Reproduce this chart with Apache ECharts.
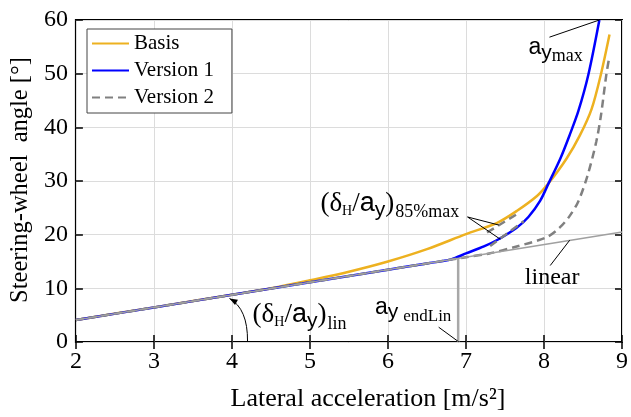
<!DOCTYPE html>
<html><head><meta charset="utf-8">
<script src="https://cdn.jsdelivr.net/npm/echarts@6/dist/echarts.min.js"></script>
<style>html,body{margin:0;padding:0;background:#fff}#c{width:631px;height:417px}</style>
</head><body><div id="c"></div>
<script>
// ---- data ----
const xTicks = [2, 3, 4, 5, 6, 7, 8, 9];
const yTicks = [0, 10, 20, 30, 40, 50, 60];

const xBasis = [2, 3, 4, 4.5, 5, 5.5, 6, 6.5, 7, 7.4, 7.65, 7.91, 8.06, 8.29, 8.46, 8.61, 8.73, 8.84];
const yBasis = [4.1, 6.45, 8.8, 10.0, 11.5, 13.1, 15.0, 17.3, 20.1, 22.2, 24.4, 27.2, 29.6, 34.2, 38.5, 43.4, 49.9, 57.3];

const xV1 = [2, 3, 4, 5, 6, 6.5, 6.81, 7.0, 7.23, 7.4, 7.65, 7.8, 7.95, 8.06, 8.21, 8.33, 8.44, 8.57, 8.71];
const yV1 = [4.1, 6.44, 8.79, 11.13, 13.47, 14.64, 15.4, 16.5, 17.8, 19.0, 21.3, 23.3, 26.3, 29.6, 34.2, 38.6, 43.0, 49.9, 60];

const xV2 = [2, 3, 4, 5, 6, 7, 7.3, 7.65, 8.03, 8.2, 8.33, 8.44, 8.56, 8.67, 8.73, 8.80, 8.84];
const yV2 = [4.1, 6.44, 8.79, 11.13, 13.47, 15.8, 16.5, 17.8, 19.5, 21.3, 23.5, 26.2, 31.1, 37.3, 42.2, 49.9, 53.3];

const xLinear = [2, 9];
const yLinear = [4.1, 20.5];

const xTangentA = [7.27, 7.65], yTangentA = [20.4, 23.8];
const xTangentB = [7.31, 7.74], yTangentB = [17.9, 22.5];

const xEndLin = [6.9, 6.9], yEndLin = [0, 15.6];

// annotation leader lines (data coords)
const xLeadMax = [8.07, 8.71], yLeadMax = [56.8, 60];
const xLeadPctA = [7.02, 7.42], yLeadPctA = [23.3, 21.8];
const xLeadPctB = [7.02, 7.44], yLeadPctB = [23.3, 19.15];
const xLeadLinear = [8.08, 8.33], yLeadLinear = [14.25, 18.97];
const xLeadEnd = [6.65, 6.91], yLeadEnd = [2.76, 0];
// curved arrow for (dH/ay)lin : start, control, tip
const arcPts = [[4.20, 0.1], [4.204, 6.2], [3.969, 8.11]];

// annotation anchors (left, baseline) in data coords
const anchorMax = [7.80, 53.55];
const anchorPct = [5.134, 24.26];
const anchorLin = [4.265, 3.63];
const anchorEnd = [5.833, 5.05];
const anchorLinear = [7.755, 10.57];

const zip = (xs, ys) => xs.map((x, i) => [x, ys[i]]);

const SERIF = 'Liberation Serif';
const SANS = 'Liberation Sans';

const chart = echarts.init(document.getElementById('c'), null, {renderer: 'canvas'});

function lineSeries(name, xs, ys, color, width, type, extra) {
  return Object.assign({
    name: name, type: 'line', data: zip(xs, ys), symbol: 'none', showSymbol: false,
    lineStyle: {color: color, width: width, type: type || 'solid'},
    itemStyle: {color: color}, animation: false, silent: true
  }, extra || {});
}

const axisTick = {show: true, inside: true, length: 7, lineStyle: {color: '#000', width: 1.5}};

const option = {
  animation: false,
  backgroundColor: '#fff',
  grid: {left: 75, top: 20, width: 551, height: 325.7, show: true, borderColor: '#000', borderWidth: 2, containLabel: false},
  legend: {
    data: ['Basis', 'Version 1', 'Version 2'],
    orient: 'vertical', left: 87, top: 29,
    itemWidth: 37, itemHeight: 14, itemGap: 6,
    padding: [4, 18, 5, 4],
    itemStyle: {opacity: 0},
    backgroundColor: '#fff', borderColor: '#444', borderWidth: 1,
    textStyle: {fontFamily: SERIF, fontSize: 21, color: '#000', lineHeight: 20}
  },
  xAxis: [{
    type: 'value', min: 2, max: 9, interval: 1, position: 'bottom',
    axisLine: {show: false}, axisTick: axisTick,
    splitLine: {show: true, lineStyle: {color: '#dcdcdc', width: 1}},
    axisLabel: {fontFamily: SERIF, fontSize: 24, color: '#000', margin: 8,
      formatter: v => xTicks.includes(v) ? String(v) : ''},
    name: 'Lateral acceleration [m/s²]', nameLocation: 'middle', nameGap: 44,
    nameTextStyle: {fontFamily: SERIF, fontSize: 26, color: '#000', padding: [0, 0, 0, 38]}
  }, {
    type: 'value', min: 2, max: 9, interval: 1, position: 'top',
    axisLine: {show: false}, axisTick: axisTick, splitLine: {show: false}, axisLabel: {show: false}
  }],
  yAxis: [{
    type: 'value', min: 0, max: 60, interval: 10, position: 'left',
    axisLine: {show: false}, axisTick: axisTick,
    splitLine: {show: true, lineStyle: {color: '#dcdcdc', width: 1}},
    axisLabel: {fontFamily: SERIF, fontSize: 24, color: '#000', margin: 8,
      formatter: v => yTicks.includes(v) ? String(v) : ''},
    name: 'Steering-wheel  angle [°]', nameLocation: 'middle', nameGap: 42,
    nameTextStyle: {fontFamily: SERIF, fontSize: 24.5, color: '#000', padding: [0, 0, 0, 2]}
  }, {
    type: 'value', min: 0, max: 60, interval: 10, position: 'right',
    axisLine: {show: false}, axisTick: axisTick, splitLine: {show: false}, axisLabel: {show: false}
  }],
  series: [
    lineSeries('Basis', xBasis, yBasis, '#EDB120', 2.5, 'solid', {smooth: 0.3}),
    lineSeries('Version 1', xV1, yV1, '#0000FF', 2.5, 'solid', {smooth: 0.3}),
    lineSeries('Version 2', xV2, yV2, '#808080', 2.5, [8, 5], {smooth: 0.3}),
    lineSeries('linear', xLinear, yLinear, '#A0A0A0', 1.5),
    lineSeries('tanA', xTangentA, yTangentA, '#808080', 2.5, [8, 5]),
    lineSeries('tanB', xTangentB, yTangentB, '#808080', 2.5, [8, 5]),
    lineSeries('endLin', xEndLin, yEndLin, '#A8A8A8', 2.5),
    lineSeries('l1', xLeadMax, yLeadMax, '#000', 1),
    lineSeries('l2', xLeadPctA, yLeadPctA, '#000', 1),
    lineSeries('l3', xLeadPctB, yLeadPctB, '#000', 1),
    lineSeries('l4', xLeadLinear, yLeadLinear, '#000', 1),
    lineSeries('l5', xLeadEnd, yLeadEnd, '#000', 1)
  ]
};
chart.setOption(option);

// ---- annotations ----
const mctx = document.createElement('canvas').getContext('2d');
function tw(t, fam, size) { mctx.font = size + 'px "' + fam + '"'; return mctx.measureText(t).width; }
const px = p => chart.convertToPixel({xAxisIndex: 0, yAxisIndex: 0}, p);

function rich(anchor, pieces) {
  const [x0, base] = px(anchor);
  let x = x0;
  const els = [];
  pieces.forEach(p => {
    els.push({
      type: 'text', silent: true,
      style: {text: p.t, x: x, y: base + (p.dy || 0) - p.size * 0.3, fill: '#000',
        font: p.size + 'px "' + p.fam + '"', align: 'left', verticalAlign: 'middle'}
    });
    x += tw(p.t, p.fam, p.size) + (p.gap || 0);
  });
  return els;
}

const M = 27, S = 18;
let g = [];
g = g.concat(rich(anchorMax, [
  {t: 'a', fam: SANS, size: 23}, {t: 'y', fam: SANS, size: 21, dy: 5}, {t: 'max', fam: SERIF, size: 18, dy: 7}
]));
g = g.concat(rich(anchorPct, [
  {t: '(δ', fam: SERIF, size: M}, {t: 'H', fam: SERIF, size: 14, dy: 4},
  {t: '/', fam: SERIF, size: M}, {t: 'a', fam: SANS, size: M},
  {t: 'y', fam: SANS, size: 21, dy: 5}, {t: ')', fam: SERIF, size: M, gap: 1},
  {t: '85%max', fam: SERIF, size: S, dy: 6}
]));
g = g.concat(rich(anchorLin, [
  {t: '(δ', fam: SERIF, size: M}, {t: 'H', fam: SERIF, size: 14, dy: 4},
  {t: '/', fam: SERIF, size: M}, {t: 'a', fam: SANS, size: M},
  {t: 'y', fam: SANS, size: 21, dy: 5}, {t: ')', fam: SERIF, size: M, gap: 1},
  {t: 'lin', fam: SERIF, size: 18, dy: 7}
]));
g = g.concat(rich(anchorEnd, [
  {t: 'a', fam: SANS, size: 23}, {t: 'y', fam: SANS, size: 21, dy: 4, gap: 5}, {t: 'endLin', fam: SERIF, size: 17, dy: 7}
]));
g = g.concat(rich(anchorLinear, [{t: 'linear', fam: SERIF, size: 24}]));

// curved arrow
const a0 = px(arcPts[0]), a1 = px(arcPts[1]), a2 = px(arcPts[2]);
g.push({type: 'bezierCurve', silent: true,
  shape: {x1: a0[0], y1: a0[1], cpx1: a1[0], cpy1: a1[1], x2: a2[0], y2: a2[1]},
  style: {stroke: '#000', lineWidth: 1, fill: null}});
const dx = a2[0] - a1[0], dy = a2[1] - a1[1], L = Math.hypot(dx, dy);
const ux = dx / L, uy = dy / L, nx = -uy, ny = ux;
const hl = 8, hw = 3;
g.push({type: 'polygon', silent: true,
  shape: {points: [[a2[0], a2[1]], [a2[0] - ux * hl + nx * hw, a2[1] - uy * hl + ny * hw], [a2[0] - ux * hl - nx * hw, a2[1] - uy * hl - ny * hw]]},
  style: {fill: '#000'}});

chart.setOption({graphic: {elements: g}});
</script></body></html>
